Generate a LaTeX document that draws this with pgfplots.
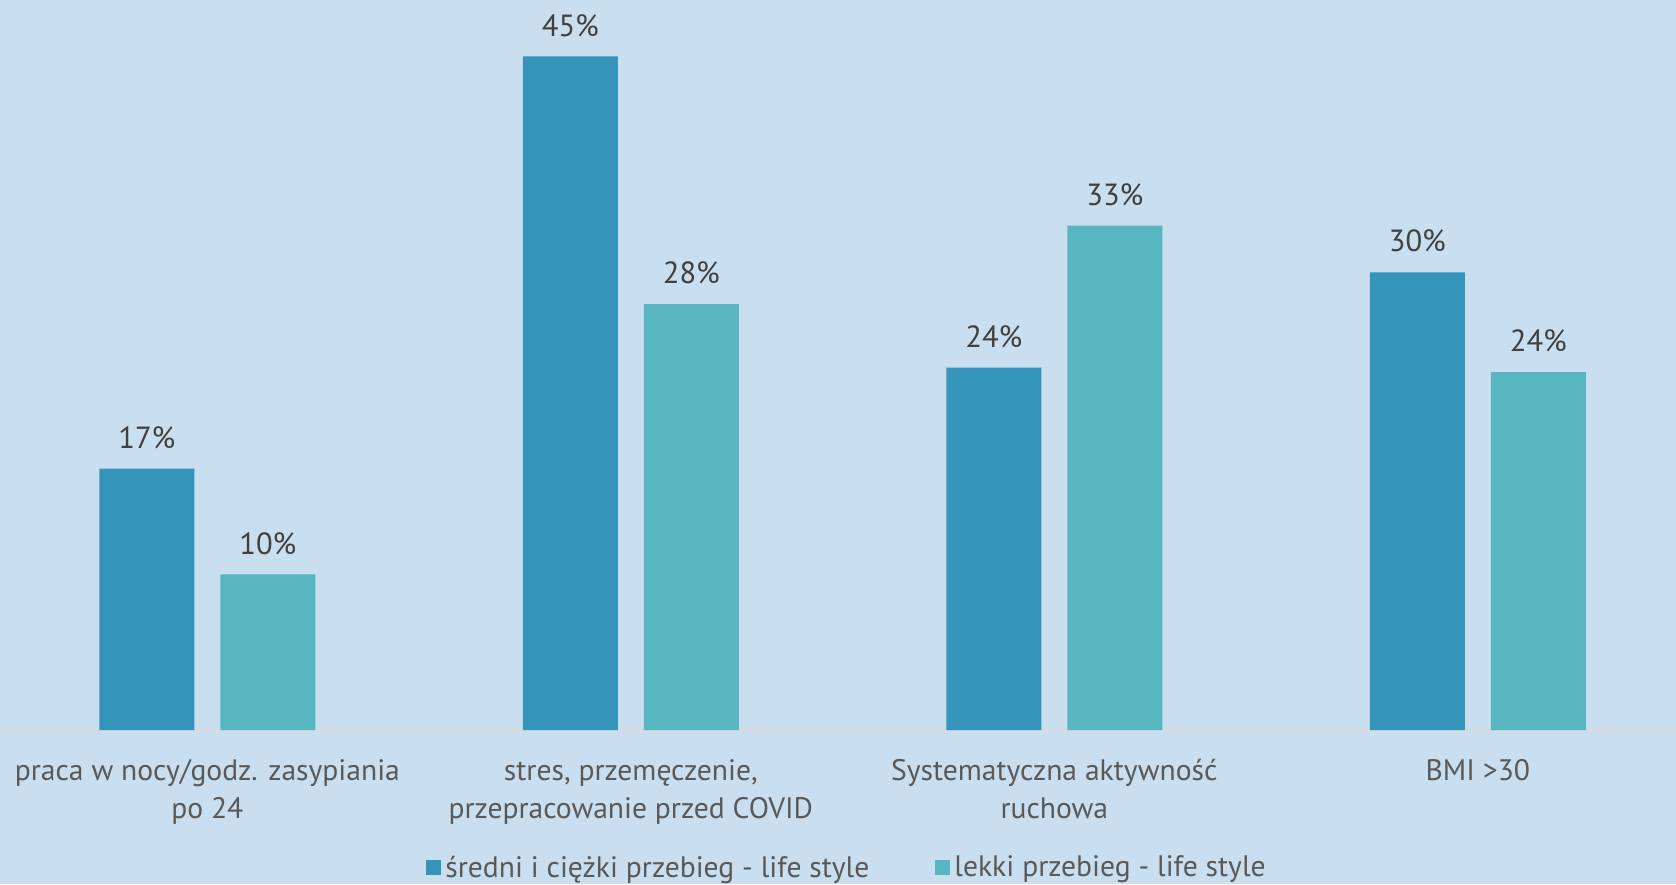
\documentclass[border=0pt]{standalone}
\usepackage{pgfplots}
\pgfplotsset{compat=1.18}
\usepackage{fontspec}
\setmainfont{PT Sans}
\definecolor{bgc}{HTML}{C9DEEE}
\definecolor{cdark}{HTML}{3494BA}
\definecolor{clight}{HTML}{58B6C0}
\definecolor{tgray}{HTML}{595959}
\definecolor{dgray}{HTML}{404040}
\definecolor{lgray}{HTML}{D9D9D9}
\begin{document}
\begin{tikzpicture}
\fill[bgc, use as bounding box] (0,0) rectangle (838pt,442pt);
\begin{axis}[
  scale only axis,
  width=847pt, height=365pt,
  at={(-2.2pt,77pt)}, anchor=south west,
  ybar=13pt, bar width=47.5pt,
  xmin=-0.5, xmax=3.5, ymin=0, ymax=48.34,
  axis x line*=bottom, axis y line=none,
  x axis line style={-, draw=lgray, line width=1pt},
  xtick={0,1,2,3},
  xticklabels={{praca w nocy/godz. zasypiania\\po 24},{stres, przemęczenie,\\przepracowanie przed COVID},{Systematyczna aktywność\\ruchowa},{BMI >30}},
  major tick length=0pt,
  ytick=\empty,
  xticklabel style={align=center, font=\fontsize{14.8}{19}\selectfont, text=tgray, yshift=-11pt},
  nodes near coords={\pgfmathprintnumber[fixed,precision=0]{\pgfplotspointmeta}\%},
  every node near coord/.append style={font=\fontsize{15.3}{19}\selectfont, text=dgray, yshift=6.5pt},
  /pgf/number format/assume math mode=true,
  legend columns=2,
  legend style={at={(0.5032,-0.189)}, anchor=center, draw=none, fill=none,
    font=\fontsize{14.8}{17}\selectfont, text=tgray,
    /tikz/every even column/.append style={column sep=31pt}},
]
\addplot[fill=cdark, draw=none, legend image code/.code={\fill[cdark] (0pt,-3.5pt) rectangle (7.5pt,4pt);}] coordinates {(0,17.3) (1,44.6) (2,24.0) (3,30.3)};
\addlegendentry{średni i ciężki przebieg - life style}
\addplot[fill=clight, draw=none, legend image code/.code={\fill[clight] (0pt,-3.5pt) rectangle (7.5pt,4pt);}] coordinates {(0,10.3) (1,28.2) (2,33.4) (3,23.7)};
\addlegendentry{lekki przebieg - life style}
\end{axis}
\end{tikzpicture}
\end{document}
